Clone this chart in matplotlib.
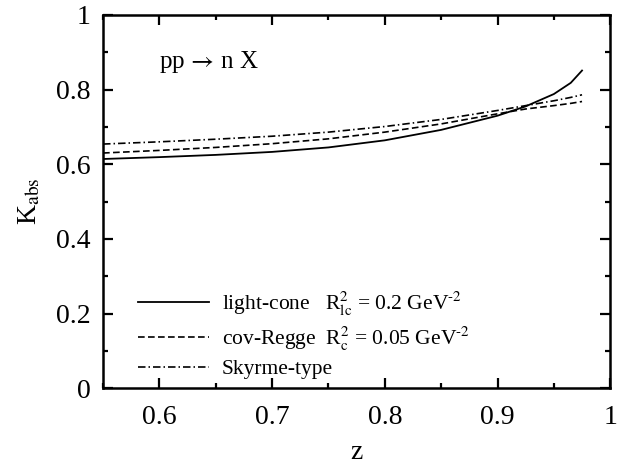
import matplotlib
matplotlib.use("Agg")
import matplotlib.pyplot as plt
from matplotlib.ticker import MultipleLocator

plt.rcParams["font.family"] = ["Liberation Serif", "DejaVu Serif"]
plt.rcParams["mathtext.fontset"] = "stix"

# values
z = [0.55, 0.6, 0.65, 0.7, 0.75, 0.8, 0.85, 0.9, 0.925, 0.95, 0.965, 0.975]
k_light_cone = [0.614, 0.619, 0.625, 0.633, 0.645, 0.664, 0.692, 0.730, 0.755, 0.788, 0.818, 0.851]
k_cov_regge = [0.630, 0.637, 0.645, 0.655, 0.668, 0.686, 0.708, 0.735, 0.748, 0.757, 0.763, 0.768]
k_skyrme = [0.654, 0.660, 0.667, 0.675, 0.686, 0.701, 0.720, 0.744, 0.757, 0.770, 0.779, 0.786]

labels = [
    r"light-cone   R$_{\rm lc}^{2}$ = 0.2 GeV$^{\text{-2}}$",
    r"cov-Regge  R$_{\rm c}^{2}$ = 0.05 GeV$^{\text{-2}}$",
    "Skyrme-type",
]

fig = plt.figure(figsize=(6.17, 4.66), dpi=100)
ax = fig.add_axes([0.167, 0.167, 0.822, 0.801])

ax.plot(z, k_light_cone, color="black", lw=1.3, label=labels[0])
ax.plot(z, k_cov_regge, color="black", lw=1.2, dashes=(4.0, 2.0), label=labels[1])
ax.plot(z, k_skyrme, color="black", lw=1.2, dashes=(4.5, 1.8, 0.9, 1.8), label=labels[2])

ax.set_xlim(0.55, 1.0)
ax.set_ylim(0, 1)
ax.xaxis.set_minor_locator(MultipleLocator(0.05))
ax.yaxis.set_minor_locator(MultipleLocator(0.1))
ax.set_xticks([0.6, 0.7, 0.8, 0.9, 1.0], ["0.6", "0.7", "0.8", "0.9", "1"])
ax.set_yticks([0, 0.2, 0.4, 0.6, 0.8, 1.0], ["0", "0.2", "0.4", "0.6", "0.8", "1"])

ax.tick_params(which="both", direction="in", top=True, right=True,
               labelsize=20, width=1.6)
ax.tick_params(which="major", length=7)
ax.tick_params(axis="x", which="major", pad=12)
ax.tick_params(axis="y", which="major", pad=9)
ax.tick_params(which="minor", length=3.5)
for sp in ax.spines.values():
    sp.set_linewidth(1.8)

ax.set_xlabel("z", fontsize=20, labelpad=7)
ax.set_ylabel(r"K$_{\rm abs}$", fontsize=20, labelpad=10)

ax.text(0.11, 0.875, r"pp$\,\rightarrow\,$n X", transform=ax.transAxes,
        fontsize=18, va="center", ha="left")

ax.legend(loc="lower left", bbox_to_anchor=(0.03, -0.028), frameon=False,
          fontsize=15.5, handlelength=3.3, handletextpad=0.6, labelspacing=0.3)

fig.savefig("out.png", dpi=100)
